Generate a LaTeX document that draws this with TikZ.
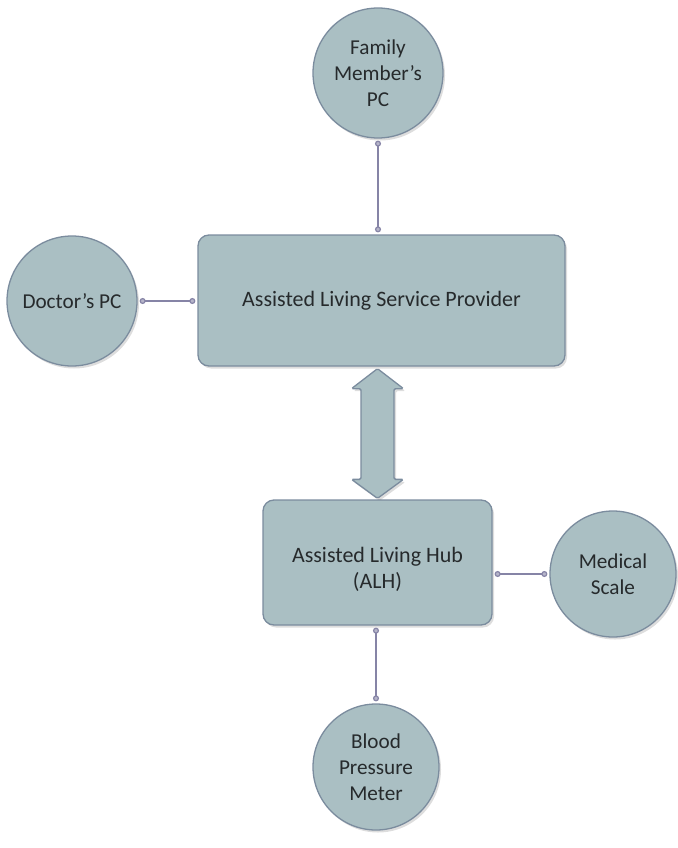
\documentclass[tikz,border=0pt]{standalone}
\usepackage{fontspec}
\setmainfont{Carlito}
\usetikzlibrary{arrows.meta,shadows,calc}

\definecolor{unitfill}{HTML}{AABFC3}
\definecolor{unitedge}{HTML}{7B8C9E}
\definecolor{linkcol}{HTML}{8684A6}
\definecolor{labelcol}{HTML}{262A2C}

\tikzset{
  softshadow/.style={drop shadow={shadow xshift=2pt, shadow yshift=-2.5pt, opacity=0.22, fill=black!60}},
  device/.style={circle, draw=unitedge, line width=1.3pt, fill=unitfill,
    minimum size=130pt, inner sep=0pt, align=center, text=labelcol,
    font=\fontsize{21.2}{26}\selectfont, softshadow},
  panel/.style={rectangle, rounded corners=11pt, draw=unitedge, line width=1.3pt,
    fill=unitfill, inner sep=0pt, align=center, text=labelcol,
    font=\fontsize{22}{26.5}\selectfont, softshadow},
  link/.style={draw=linkcol, line width=1.2pt,
    {Circle[length=6pt, fill=linkcol!60]}-{Circle[length=6pt, fill=linkcol!60]},
    shorten <=2pt, shorten >=2pt},
  bigarrow/.style={draw=unitedge, line width=1.3pt, fill=unitfill,
    rounded corners=1.5pt, softshadow}
}

\begin{document}
\begin{tikzpicture}[x=1pt, y=-1pt]
  \useasboundingbox (0,0) rectangle (677,848);

  % main service and the hub
  \node[panel, minimum width=367pt, minimum height=131pt] (asp) at (381.5,300.5)
    {Assisted Living Service Provider};
  \node[panel, minimum width=229pt, minimum height=125pt] (alh) at (377.5,562.5)
    {};
  \node[align=center, text=labelcol, font=\fontsize{22}{26.5}\selectfont,
    inner sep=0pt] (alhtext) at ($(alh.center)+(0,7)$) {Assisted Living Hub\\(ALH)};

  % end devices
  \node[device] (fam) at (378,73) {Family\\Member’s\\PC};
  \node[device] (doc) at (72,301) {Doctor’s PC};
  \node[device, minimum size=126pt] (scale) at (613,574) {Medical\\Scale};
  \node[device, minimum size=126pt] (bpm) at (376,767) {Blood\\Pressure\\Meter};

  % links
  \draw[link] (fam.south) -- (fam.south |- asp.north);
  \draw[link] (doc.east) -- (doc.east -| asp.west);
  \draw[link] (alh.east |- scale.west) -- (scale.west);
  \draw[link] (alh.south -| bpm.north) -- (bpm.north);

  % two-way transfer between provider and hub
  \path (alh.north |- asp.south) ++(0,2) coordinate (at);
  \path (alh.north) ++(0,-1) coordinate (ab);
  \draw[bigarrow] (at) -- ++(26,20) -- ++(-9.5,0) -- ($(ab)+(16.5,-19)$)
    -- ++(9.5,0) -- (ab) -- ++(-26,-19) -- ++(9.5,0)
    -- ($(at)+(-16.5,20)$) -- ++(-9.5,0) -- cycle;
\end{tikzpicture}
\end{document}
